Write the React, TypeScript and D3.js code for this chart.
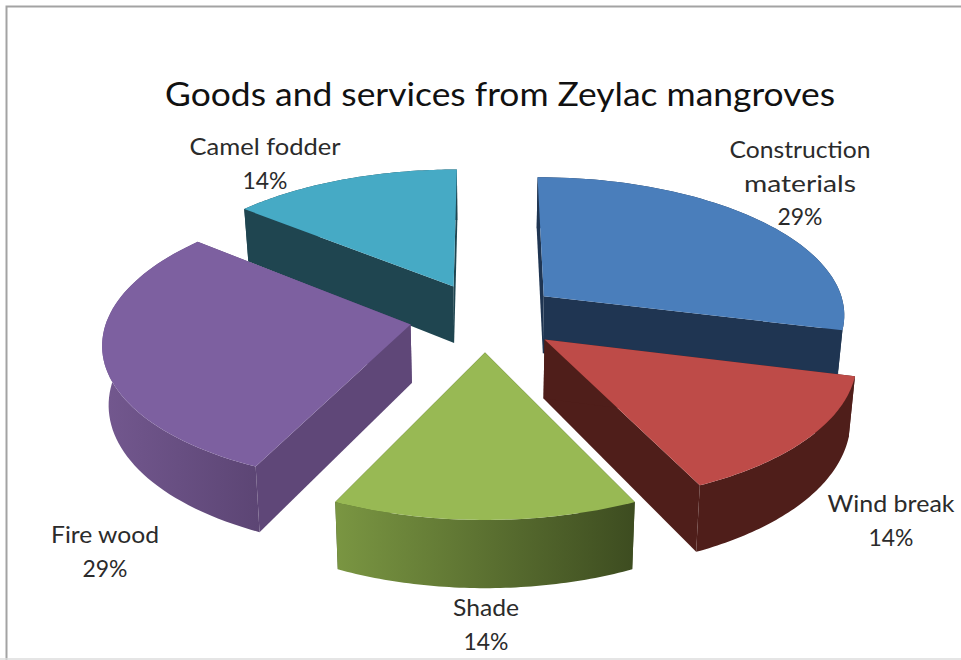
import React from "react";
import * as d3 from "d3";

// Survey shares per use of the mangroves
const categories = ["Construction materials", "Wind break", "Shade", "Fire wood", "Camel fodder"];
const shares = [29, 14, 14, 29, 14];
const chartTitle = "Goods and services from Zeylac mangroves";

// Appearance per slice, same order as categories
const topColors = ["#4a7ebb", "#be4b48", "#98b954", "#7d60a0", "#46aac5"];
const cutColors = ["#1f3552", "#4f1e1a", "#3f4f22", "#5f4778", "#1f4550"];
const wallStart = ["#1f3552", "#4f1e1a", "#7a9642", "#73588f", "#1f4550"];
const wallEnd = ["#1f3552", "#4f1e1a", "#3d4c20", "#5c4574", "#1f4550"];

// Label placement: centre x, first baseline, text width per line
const labelLines = [["Construction", "materials", "29%"], ["Wind break", "14%"], ["Shade", "14%"], ["Fire wood", "29%"], ["Camel fodder", "14%"]];
const labelX = [800, 891, 486, 105, 265];
const labelY = [158, 512, 616, 543, 155];
const labelWidths = [[141, 112, 45], [127, 45], [66, 45], [108, 45], [151, 45]];

const W = 961;
const H = 660;
const CX = 485;
const CY = 317;
const RX = 303;
const RY = 138;
const PERSPECTIVE = 0.12;
const EXPLODE = 0.25;
const DEPTH = 58;
const BOTTOM_SQUEEZE = 0.983;

type Pt = [number, number];

// Maps a point on the tilted pie disc (angle clockwise from the back, radius 0..1)
// to the screen, with the slice pushed out along its middle angle.
function project(theta: number, radius: number, mid: number, lowered: boolean): Pt {
  const u = radius * Math.sin(theta) + EXPLODE * Math.sin(mid);
  const v = -radius * Math.cos(theta) - EXPLODE * Math.cos(mid);
  const w = 1 - PERSPECTIVE * v;
  const x = (RX * u) / w;
  const y = (RY * v) / w;
  if (!lowered) return [CX + x, CY + y];
  return [CX + x * BOTTOM_SQUEEZE, CY + y + DEPTH / w];
}

const path = d3.line<Pt>().x((d) => d[0]).y((d) => d[1]);

const arcAngles = (a0: number, a1: number) => {
  const n = 60;
  return d3.range(n + 1).map((i) => a0 + ((a1 - a0) * i) / n);
};

export default function App() {
  const pie = d3.pie<number>().sort(null).startAngle(0).endAngle(2 * Math.PI);
  const arcs = pie(shares);
  // Painter's order, back slices first
  const order = [4, 0, 3, 1, 2];

  return (
    <svg
      width={W}
      height={H}
      viewBox={`0 0 ${W} ${H}`}
      style={{ position: "absolute", left: 0, top: 0, display: "block", background: "#fff" }}
    >
      <defs>
        {categories.map((_, i) => (
          <linearGradient key={i} id={`wall-${i}`} x1="0" y1="0" x2="1" y2="0">
            <stop offset="0" stopColor={wallStart[i]} />
            <stop offset="1" stopColor={wallEnd[i]} />
          </linearGradient>
        ))}
      </defs>

      {/* chart frame */}
      <path d={`M6.5 ${H} V6.5 H${W}`} fill="none" stroke="#a3a3a3" strokeWidth={2} />
      <line x1={0} x2={W} y1={659} y2={659} stroke="#dcdcdc" strokeWidth={1.5} />

      <text
        x={500}
        y={106}
        textAnchor="middle"
        fontFamily="Lato, 'Open Sans', sans-serif"
        fontSize={32}
        fill="#111"
        textLength={670}
        lengthAdjust="spacingAndGlyphs"
      >
        {chartTitle}
      </text>

      {order.map((i) => {
        const a = arcs[i];
        const mid = (a.startAngle + a.endAngle) / 2;
        const angles = arcAngles(a.startAngle, a.endAngle);
        const rimTop = angles.map((t) => project(t, 1, mid, false));
        const rimBottom = angles.map((t) => project(t, 1, mid, true));
        const apexTop = project(0, 0, mid, false);
        const apexBottom = project(0, 0, mid, true);
        const last = angles.length - 1;
        const cut = (k: number) =>
          path([apexTop, rimTop[k], rimBottom[k], apexBottom])! + "Z";
        return (
          <g key={categories[i]}>
            <path d={cut(last)} fill={cutColors[i]} />
            <path d={cut(0)} fill={cutColors[i]} />
            <path d={path([...rimTop, ...[...rimBottom].reverse()])! + "Z"} fill={`url(#wall-${i})`} />
            <path d={path([apexTop, ...rimTop])! + "Z"} fill={topColors[i]} />
          </g>
        );
      })}

      {labelLines.map((lines, i) => (
        <g key={i}>
          {lines.map((line, j) => (
            <text
              key={j}
              x={labelX[i]}
              y={labelY[i] + j * 33.5}
              textAnchor="middle"
              fontFamily="Lato, 'Open Sans', sans-serif"
              fontSize={23}
              fill="#2b2b2b"
              textLength={labelWidths[i][j]}
              lengthAdjust="spacingAndGlyphs"
            >
              {line}
            </text>
          ))}
        </g>
      ))}
    </svg>
  );
}
